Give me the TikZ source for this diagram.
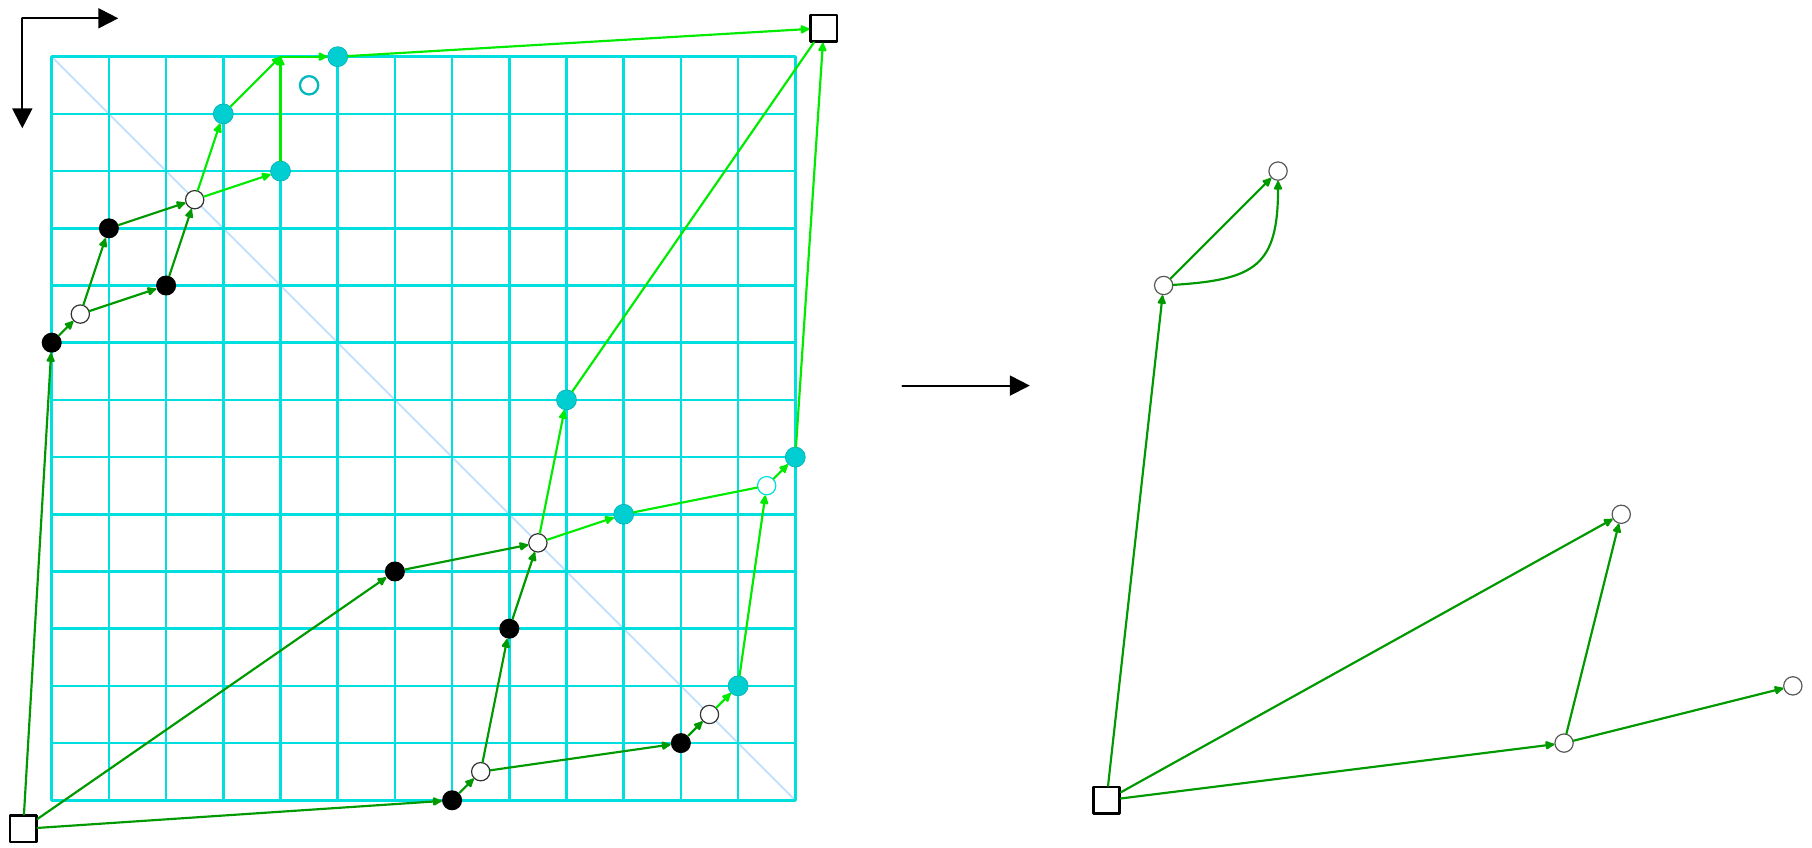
\documentclass[tikz,border=0pt]{standalone}
\usetikzlibrary{arrows.meta}
\definecolor{gridcyan}{RGB}{0,222,222}
\definecolor{dotcyan}{RGB}{0,206,209}
\definecolor{darkgr}{RGB}{0,153,0}
\definecolor{litegr}{RGB}{0,235,0}
\definecolor{diagblue}{RGB}{195,225,255}
\begin{document}
\begin{tikzpicture}[x=1cm,y=-1cm,line join=round,line cap=round,>={Latex[length=2mm,width=1.8mm,round]},
	blk/.style={circle,fill=black,inner sep=0pt,minimum size=3.5mm},
	cyn/.style={circle,fill=dotcyan,draw=dotcyan!85!black,line width=0.3pt,inner sep=0pt,minimum size=3.5mm},
	wht/.style={circle,fill=white,draw=black!80,line width=0.6pt,inner sep=0pt,minimum size=3.2mm},
	sqr/.style={rectangle,fill=white,draw=black,line width=0.45mm,inner sep=0pt,minimum size=4.6mm},
	dk/.style={->,darkgr,line width=0.38mm},
	lt/.style={->,litegr,line width=0.38mm},
	big/.style={-{Triangle[length=3.5mm,width=3.5mm]},line width=0.35mm}]
	\def \n{13}\def \sh{18.44}
	\useasboundingbox (-0.904,-0.991) rectangle (30.775,13.834);
	% grid and diagonal
	\draw[diagblue,line width=0.35mm] (0,0)--(\n,\n);
	\draw[gridcyan,line width=0.45mm] (0,0) grid (\n,\n);
	% corner axes
	\coordinate (o) at (-0.514,-0.671);
	\coordinate (ox) at (1.164,-0.671);
	\coordinate (oy) at (-0.514,1.252);
	\draw[big] (o)--(ox);
	\draw[big] (o)--(oy);
	% left graph
	\node[sqr] (sqa) at (-0.5,13.5) {};
	\node[sqr] (sqb) at (13.5,-0.5) {};
	\foreach \nm/\p in {b1/{(0,5)},b2/{(1,3)},b3/{(2,4)},b4/{(6,9)},b5/{(7,13)},b6/{(8,10)},b7/{(11,12)}}
		\node[blk] (\nm) at \p {};
	\foreach \nm/\p in {w1/{(0.5,4.5)},w2/{(2.5,2.5)},w3/{(7.5,12.5)},w4/{(8.5,8.5)},w5/{(11.5,11.5)}}
		\node[wht] (\nm) at \p {};
	\node[wht,draw=gridcyan] (w6) at (12.5,7.5) {};
	\foreach \nm/\p in {c1/{(3,1)},c2/{(4,2)},c3/{(5,0)},c4/{(9,6)},c5/{(10,8)},c6/{(12,11)},c7/{(13,7)}}
		\node[cyn] (\nm) at \p {};
	\node[circle,draw=dotcyan!90!black,line width=0.4mm,inner sep=0pt,minimum size=3.2mm] (h) at (4.5,0.5) {};
	\coordinate (p) at (4,0);
	\foreach \a/\b in {sqa/b1,sqa/b4,sqa/b5,b1/w1,w1/b2,w1/b3,b2/w2,b3/w2,b5/w3,w3/b6,w3/b7,b6/w4,b4/w4,b7/w5}
		\draw[dk] (\a)--(\b);
	\foreach \a/\b in {w2/c1,w2/c2,c1/p,c2/p,p/c3,c3/sqb,w4/c4,w4/c5,w5/c6,c6/w6,w6/c7,c7/sqb}
		\draw[lt] (\a)--(\b);
	\draw[lt,-] (c4)--(sqb);
	\draw[lt,-] (c5)--(w6);
	% middle arrow
	\coordinate (m1) at (14.87,5.75);
	\coordinate (m2) at (17.10,5.75);
	\draw[big] (m1)--(m2);
	% right graph
	\begin{scope}[xshift=\sh cm]
		\node[sqr] (r0) at (0,13) {};
		\node[wht,draw=black!65] (r1) at (1,4) {};
		\node[wht,draw=black!65] (r2) at (3,2) {};
		\node[wht,draw=black!65] (r3) at (9,8) {};
		\node[wht,draw=black!65] (r4) at (8,12) {};
		\node[wht,draw=black!65] (r5) at (12,11) {};
		\foreach \a/\b in {r0/r1,r1/r2,r0/r3,r4/r3,r0/r4,r4/r5}
			\draw[dk] (\a)--(\b);
		\draw[dk] (r1) .. controls (2.6,3.9) and (3,3.66) .. (r2);
	\end{scope}
\end{tikzpicture}
\end{document}
